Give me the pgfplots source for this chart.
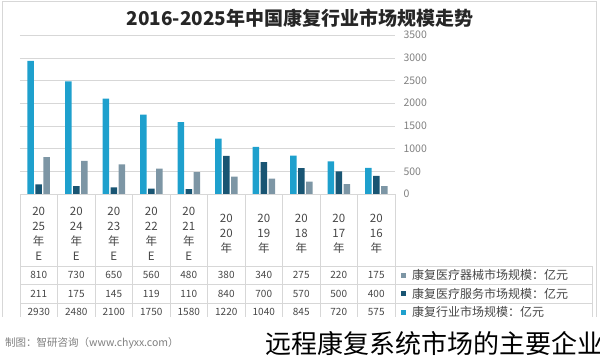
\documentclass[border=0pt]{standalone}
\usepackage{pgfplots}
\pgfplotsset{compat=1.18}
\usepackage{fontspec}
\setmainfont{Noto Sans CJK SC}
\definecolor{cA}{RGB}{30,160,205}
\definecolor{cB}{RGB}{25,85,115}
\definecolor{cC}{RGB}{125,150,165}
\definecolor{lineg}{RGB}{215,215,215}
\definecolor{txt}{RGB}{70,70,70}
\begin{document}
\begin{tikzpicture}[x=1pt,y=1pt]
\useasboundingbox (0,0) rectangle (600,-360);
\draw[lineg] (2,-1) rectangle (596,-321);
\node[font=\bfseries\fontsize{19}{19}\selectfont, text=black!85] at (300,-18) {2016-2025年中国康复行业市场规模走势};
\begin{axis}[at={(20pt,-194pt)}, anchor=south west, scale only axis, width=375pt, height=159pt,
  ymin=0, ymax=3500, ytick distance=500, xmin=-0.5, xmax=9.5,
  ybar, bar width=6.5pt,
  axis line style={draw=none}, tick style={draw=none},
  ymajorgrids, grid style={lineg},
  yticklabel pos=right,
  yticklabel style={font=\fontsize{10.5}{11}\selectfont, text=gray, anchor=west, xshift=5pt},
  /pgf/number format/assume math mode=true, scaled y ticks=false, /pgf/number format/1000 sep={},
  xtick={0,...,9},
  xticklabels={{20\\25\\年\\E},{20\\24\\年\\E},{20\\23\\年\\E},{20\\22\\年\\E},{20\\21\\年\\E},{20\\20\\年},{20\\19\\年},{20\\18\\年},{20\\17\\年},{20\\16\\年}},
  xticklabel style={align=center, anchor=center, yshift=-35.5pt, font=\fontsize{11.5}{15}\selectfont, text=txt},
  clip=false]
\addplot[fill=cA, draw=none, bar shift=-8pt] coordinates {(0,2930)(1,2480)(2,2100)(3,1750)(4,1580)(5,1220)(6,1040)(7,845)(8,720)(9,575)};
\addplot[fill=cB, draw=none, bar shift=0pt] coordinates {(0,211)(1,175)(2,145)(3,119)(4,110)(5,840)(6,700)(7,570)(8,500)(9,400)};
\addplot[fill=cC, draw=none, bar shift=8pt] coordinates {(0,810)(1,730)(2,650)(3,560)(4,480)(5,380)(6,340)(7,275)(8,220)(9,175)};
\end{axis}
% table grid
\draw[lineg] (20,-194) -- (395,-194);
\foreach \k in {0,...,10} \draw[lineg] ({20+37.5*\k},-194) -- ({20+37.5*\k},-321);
\foreach \yy in {-266,-284.5,-303,-321} \draw[lineg] (20,\yy) -- (592,\yy);
\draw[lineg] (592,-266) -- (592,-321);
% table values
\foreach \v [count=\i from 0] in {810,730,650,560,480,380,340,275,220,175}
  \node[font=\fontsize{10}{10}\selectfont, text=txt] at ({38.75+37.5*\i},-275.2) {\v};
\foreach \v [count=\i from 0] in {211,175,145,119,110,840,700,570,500,400}
  \node[font=\fontsize{10}{10}\selectfont, text=txt] at ({38.75+37.5*\i},-293.7) {\v};
\foreach \v [count=\i from 0] in {2930,2480,2100,1750,1580,1220,1040,845,720,575}
  \node[font=\fontsize{10}{10}\selectfont, text=txt] at ({38.75+37.5*\i},-312.2) {\v};
% legend rows
\fill[cC] (401,-272.7) rectangle (406,-277.7);
\node[anchor=west, font=\fontsize{12}{12}\selectfont, text=txt, inner sep=0] at (412,-275.2) {康复医疗器械市场规模：亿元};
\fill[cB] (401,-291.2) rectangle (406,-296.2);
\node[anchor=west, font=\fontsize{12}{12}\selectfont, text=txt, inner sep=0] at (412,-293.7) {康复医疗服务市场规模：亿元};
\fill[cA] (401,-309.7) rectangle (406,-314.7);
\node[anchor=west, font=\fontsize{12}{12}\selectfont, text=txt, inner sep=0] at (412,-312.2) {康复行业市场规模：亿元};
% bottom overlay
\fill[white] (0,-317) rectangle (600,-360);
\node[anchor=west, font=\fontsize{10.5}{11}\selectfont, text=gray, inner sep=0] at (5,-343) {制图：智研咨询（www.chyxx.com）};
\node[anchor=west, font=\fontsize{26}{26}\selectfont, text=black, inner sep=0] at (265,-343) {远程康复系统市场的主要企业};
\end{tikzpicture}
\end{document}
